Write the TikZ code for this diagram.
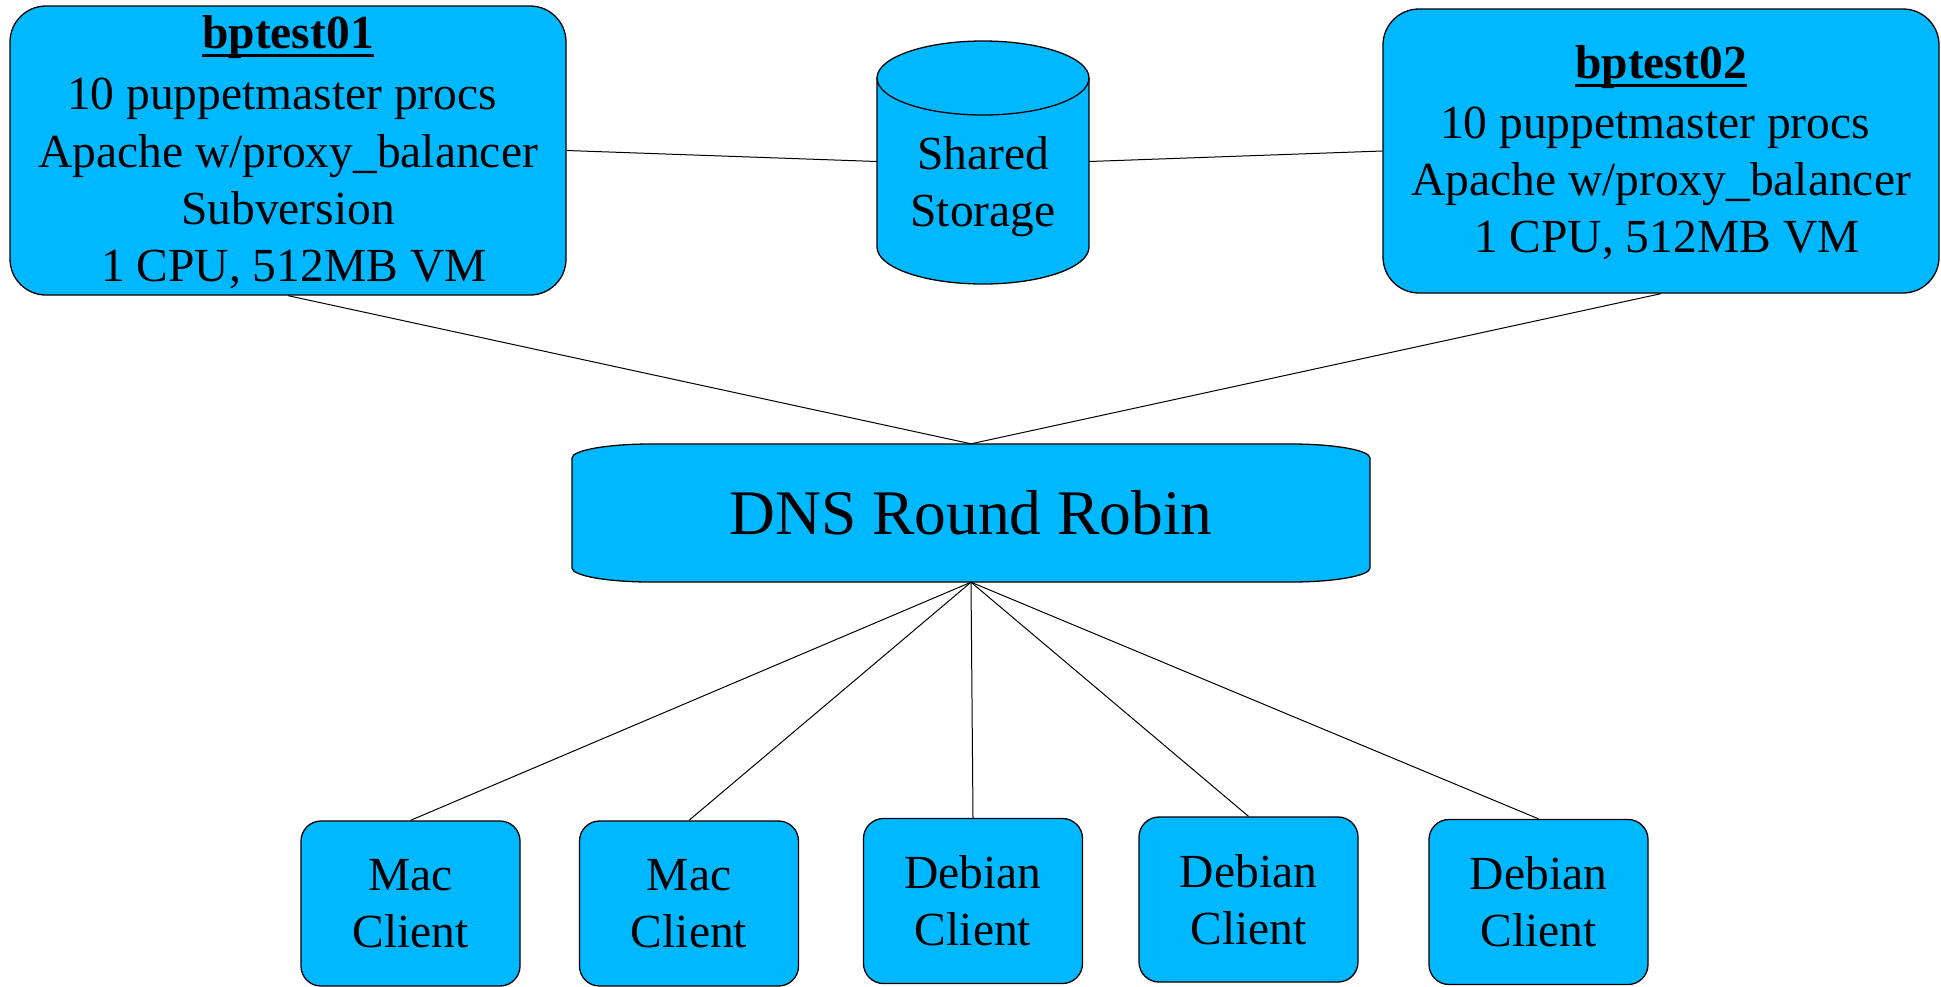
\documentclass[tikz,border=0pt]{standalone}
\usepackage{fontspec}
\setmainfont{Liberation Serif}
\definecolor{nodeblue}{RGB}{0,184,255}
\newcommand\myul[1]{\setbox0=\hbox{#1}\rlap{\vrule height -6pt depth 8.5pt width\wd0}\box0}
\tikzset{
  shapefill/.style={fill=nodeblue, draw=black, line width=1.3pt},
  txt/.style={align=center, inner sep=0pt, font=\fontsize{47.5pt}{57.2pt}\selectfont},
  server/.style={shapefill, rounded corners=36pt, minimum width=556pt, inner sep=0pt},
  client/.style={shapefill, txt, rounded corners=20pt, minimum width=219pt, minimum height=165pt},
  link/.style={line width=1pt, draw=black}
}
\begin{document}
\begin{tikzpicture}[x=1pt, y=-1pt]
\useasboundingbox (0,0) rectangle (1941,986);

% cylinder outline (Shared Storage)
\draw[shapefill] (877,78) -- (877,247)
  arc[start angle=180, end angle=360, x radius=106pt, y radius=37pt]
  -- (1089,78)
  arc[start angle=0, end angle=180, x radius=106pt, y radius=37pt] -- cycle;
\draw[line width=1.3pt] (877,78) arc[start angle=180, end angle=360, x radius=106pt, y radius=37pt];
\node[minimum width=212pt, minimum height=243pt, inner sep=0pt] (stor) at (983,161.5) {};
\node[txt] (storlbl) at (983,187) {Shared\\Storage};

% DNS outline
\draw[shapefill] (572,458)
  arc[start angle=180, end angle=90, x radius=79pt, y radius=14pt]
  -- (1291,444)
  arc[start angle=90, end angle=0, x radius=79pt, y radius=14pt]
  -- (1370,568)
  arc[start angle=0, end angle=-90, x radius=79pt, y radius=14pt]
  -- (651,582)
  arc[start angle=270, end angle=180, x radius=79pt, y radius=14pt] -- cycle;
\node[minimum width=798pt, minimum height=138pt, inner sep=0pt,
      font=\fontsize{63.5pt}{70pt}\selectfont] (dns) at (971,513) {DNS Round Robin};

% servers
\node[server, minimum height=289pt] (bp1) at (288,150.5) {};
\node[txt] (bp1txt) at (288,152)
  {\myul{\textbf{bptest01}}\\[4.5pt]10 puppetmaster procs\kern.25em\\Apache w/proxy\_balancer\\Subversion\\\kern.25em 1 CPU, 512MB VM};
\node[server, minimum height=284pt] (bp2) at (1661,151) {};
\node[txt] (bp2txt) at (1661,152.5)
  {\myul{\textbf{bptest02}}\\[3pt]10 puppetmaster procs\kern.25em\\Apache w/proxy\_balancer\\\kern.25em 1 CPU, 512MB VM};

% clients
\node[client] (mac1) at (410.5,903.5) {Mac\\Client};
\node[client] (mac2) at (689,903.5) {Mac\\Client};
\node[client] (deb1) at (973,901) {Debian\\Client};
\node[client] (deb2) at (1248.5,899.5) {Debian\\Client};
\node[client] (deb3) at (1538.5,902) {Debian\\Client};

% connectors
\draw[link] (bp1.east) -- (stor.west);
\draw[link] (stor.east) -- (bp2.west);
\draw[link] (bp1.south) -- (dns.north);
\draw[link] (bp2.south) -- (dns.north);
\foreach \c in {mac1,mac2,deb1,deb2,deb3}
  \draw[link] (dns.south) -- (\c.north);
\end{tikzpicture}
\end{document}
